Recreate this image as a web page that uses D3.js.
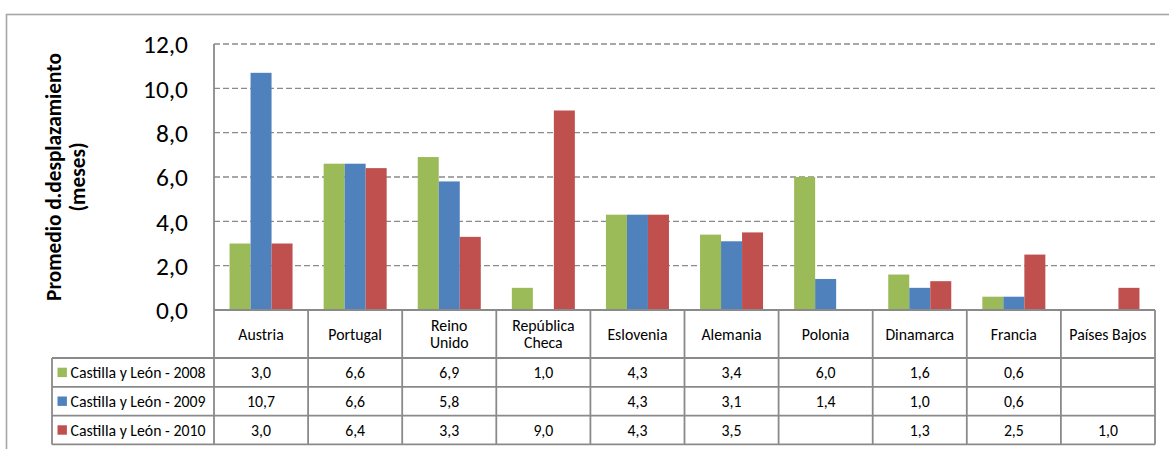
<!DOCTYPE html>
<html>
<head>
<meta charset="utf-8">
<script src="https://cdn.jsdelivr.net/npm/d3@7"></script>
<style>
  html, body { margin: 0; padding: 0; background: #ffffff; }
  svg { display: block; }
  text { font-family: Carlito, Calibri, Lato, "Open Sans", sans-serif; fill: #000; }
</style>
</head>
<body>
<svg id="chart" width="1169" height="449"></svg>
<script>
// ---------- DATA ----------
const categories = ["Austria", "Portugal", "Reino Unido", "República Checa", "Eslovenia",
                    "Alemania", "Polonia", "Dinamarca", "Francia", "Países Bajos"];
const categoryLabels = ["Austria", "Portugal", "Reino|Unido", "República|Checa", "Eslovenia",
                        "Alemania", "Polonia", "Dinamarca", "Francia", "Países Bajos"];
const seriesNames = ["Castilla y León - 2008", "Castilla y León - 2009", "Castilla y León - 2010"];
const values2008 = [3.0, 6.6, 6.9, 1.0, 4.3, 3.4, 6.0, 1.6, 0.6, null];
const values2009 = [10.7, 6.6, 5.8, null, 4.3, 3.1, 1.4, 1.0, 0.6, null];
const values2010 = [3.0, 6.4, 3.3, 9.0, 4.3, 3.5, null, 1.3, 2.5, 1.0];
const seriesColors = ["#9BBB59", "#4F81BD", "#C0504D"];
const yTicks = [0, 2, 4, 6, 8, 10, 12];
const yTitleLines = ["Promedio d.desplazamiento", "(meses)"];

const seriesValues = [values2008, values2009, values2010];

// ---------- LAYOUT ----------
const svg = d3.select("#chart");
const plotLeft = 214, plotRight = 1155, plotTop = 44, plotBottom = 310;
const headerH = 48, rowH = 28.8, legendLeft = 52;
const gridColor = "#8a8a8a";

const locale = d3.formatLocale({decimal: ",", thousands: ".", grouping: [3], currency: ["", " €"]});
const fmt = locale.format(".1f");

// font size fitting: find size so that sample text has the target width
function fitSize(sample, targetWidth, weight) {
  const t = svg.append("text").style("font-size", "100px").style("font-weight", weight || "normal").text(sample);
  const w = t.node().getComputedTextLength();
  t.remove();
  return 100 * targetWidth / w;
}
const tableFont = fitSize("Castilla y León - 2008", 135);
const tickFont = fitSize("12,0", 45);
const titleFont = fitSize("Promedio d.desplazamiento", 248, "bold");

const x = d3.scaleBand().domain(categories).range([plotLeft, plotRight]).paddingInner(0).paddingOuter(0);
const xInner = d3.scaleBand().domain(seriesNames).range([0, x.bandwidth()]).paddingInner(0).paddingOuter(0.74);
const y = d3.scaleLinear().domain([0, 12]).range([plotBottom, plotTop]);

// outer chart border
svg.append("rect")
  .attr("x", 6.5).attr("y", 14.5).attr("width", 1200).attr("height", 500)
  .attr("fill", "none").attr("stroke", "#a6a6a6").attr("stroke-width", 1.6);

// gridlines (dashed)
svg.append("g").selectAll("line")
  .data(yTicks.filter(d => d > 0))
  .join("line")
  .attr("x1", plotLeft).attr("x2", plotRight)
  .attr("y1", d => y(d)).attr("y2", d => y(d))
  .attr("stroke", gridColor).attr("stroke-width", 1.4)
  .attr("stroke-dasharray", "6,3");

// y axis labels
const yAxis = d3.axisLeft(y).tickValues(yTicks).tickFormat(fmt).tickSize(0).tickPadding(26);
const yg = svg.append("g").attr("transform", `translate(${plotLeft},0)`).call(yAxis);
yg.select(".domain").remove();
yg.selectAll("text").style("font-size", tickFont + "px").style("font-family", null).attr("dy", "0.35em");
yg.attr("font-family", null);

// y title
const yTitle = svg.append("g").attr("transform", `translate(0,${(plotTop + plotBottom) / 2})`);
yTitleLines.forEach((t, i) => {
  yTitle.append("text")
    .attr("transform", `translate(${56 + i * 24},0) rotate(-90)`)
    .attr("text-anchor", "middle")
    .attr("dominant-baseline", "middle")
    .style("font-size", titleFont + "px").style("font-weight", "bold")
    .text(t);
});

// bars
const barG = svg.append("g");
seriesValues.forEach((vals, si) => {
  barG.append("g").selectAll("rect")
    .data(vals.map((v, i) => ({cat: categories[i], v})).filter(d => d.v != null))
    .join("rect")
    .attr("x", d => x(d.cat) + xInner(seriesNames[si]))
    .attr("width", xInner.bandwidth())
    .attr("y", d => y(d.v))
    .attr("height", d => y(0) - y(d.v))
    .attr("fill", seriesColors[si]);
});

// axis lines & table
const lineG = svg.append("g").attr("stroke", gridColor).attr("stroke-width", 1.8).attr("fill", "none");
const tableBottom = plotBottom + headerH + rowH * 3;
lineG.append("line").attr("x1", plotLeft).attr("x2", plotLeft).attr("y1", plotTop).attr("y2", tableBottom);
lineG.append("line").attr("x1", plotLeft).attr("x2", plotRight).attr("y1", plotBottom).attr("y2", plotBottom);
categories.forEach(c => {
  const xr = x(c) + x.bandwidth();
  lineG.append("line").attr("x1", xr).attr("x2", xr).attr("y1", plotBottom).attr("y2", tableBottom);
});
[0, 1, 2, 3].forEach(r => {
  const yy = plotBottom + headerH + r * rowH;
  lineG.append("line").attr("x1", legendLeft).attr("x2", plotRight).attr("y1", yy).attr("y2", yy);
});
lineG.append("line").attr("x1", legendLeft).attr("x2", legendLeft)
  .attr("y1", plotBottom + headerH).attr("y2", tableBottom);

// header labels
categoryLabels.forEach((lab, i) => {
  const lines = lab.split("|");
  const cx = x(categories[i]) + x.bandwidth() / 2;
  const cy = plotBottom + headerH / 2;
  const lh = 17.6;
  lines.forEach((ln, li) => {
    svg.append("text")
      .attr("x", cx)
      .attr("y", cy + (li - (lines.length - 1) / 2) * lh)
      .attr("text-anchor", "middle")
      .attr("dominant-baseline", "central")
      .style("font-size", tableFont + "px")
      .text(ln);
  });
});

// legend rows + values
seriesNames.forEach((name, si) => {
  const cy = plotBottom + headerH + si * rowH + rowH / 2;
  svg.append("rect")
    .attr("x", 57.5).attr("y", cy - 4.7).attr("width", 9.4).attr("height", 9.4)
    .attr("fill", seriesColors[si]);
  svg.append("text")
    .attr("x", 70.5).attr("y", cy)
    .attr("dominant-baseline", "central")
    .style("font-size", tableFont + "px")
    .text(name);
  seriesValues[si].forEach((v, i) => {
    if (v == null) return;
    svg.append("text")
      .attr("x", x(categories[i]) + x.bandwidth() / 2)
      .attr("y", cy)
      .attr("text-anchor", "middle")
      .attr("dominant-baseline", "central")
      .style("font-size", tableFont + "px")
      .text(fmt(v));
  });
});
</script>
</body>
</html>
